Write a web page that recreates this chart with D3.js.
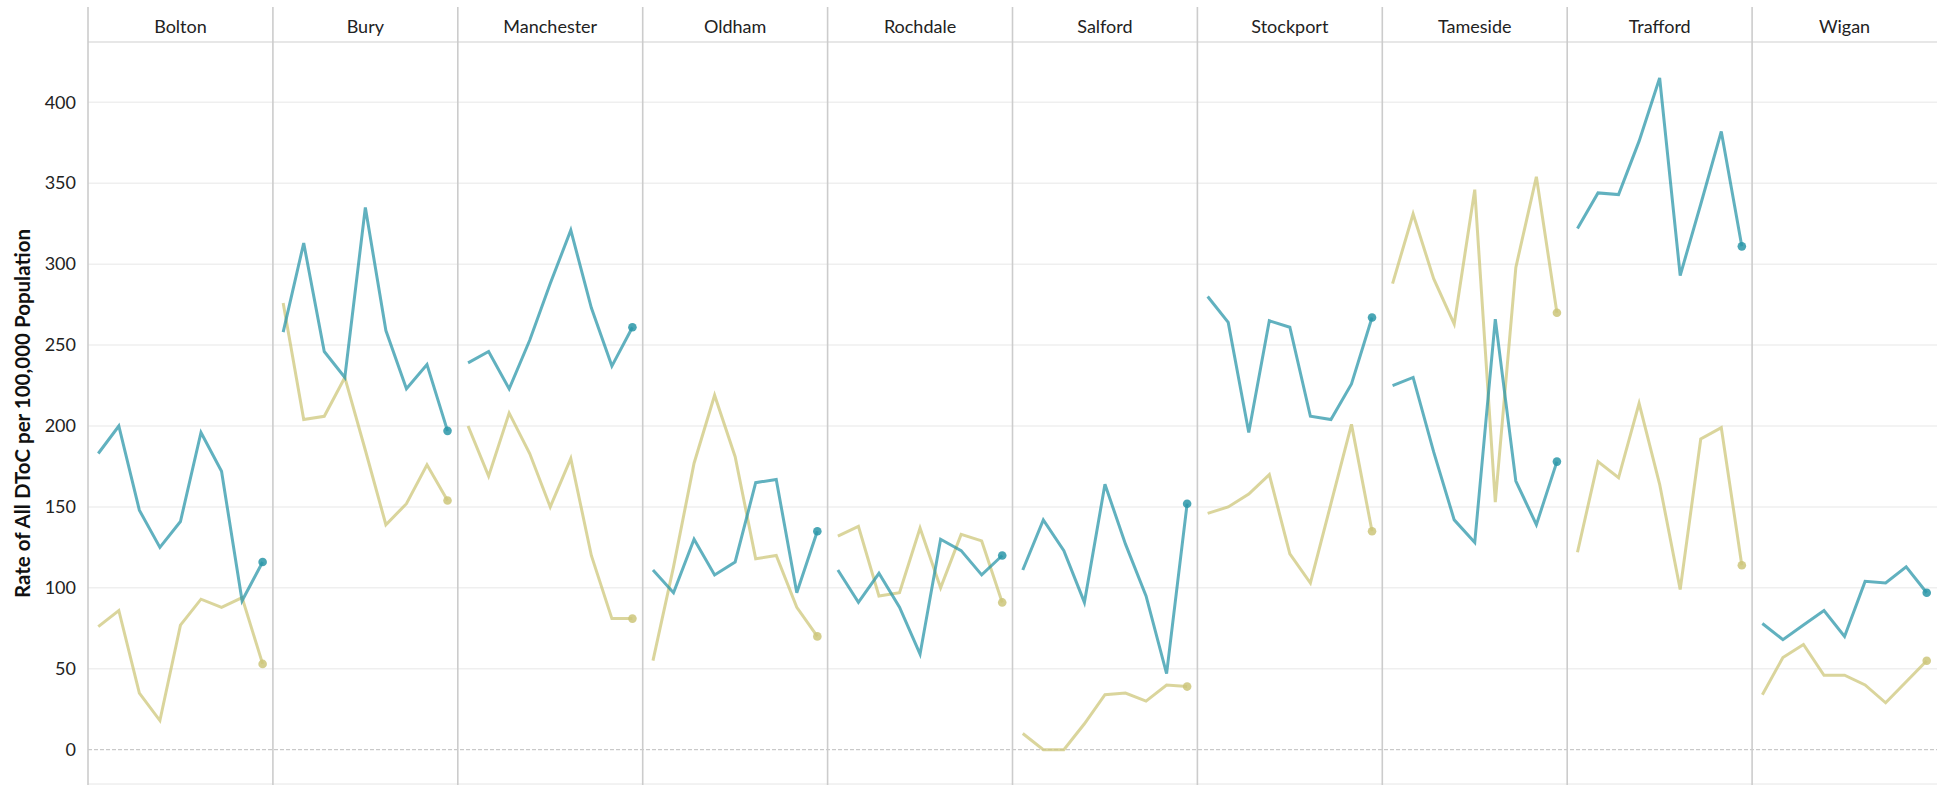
<!DOCTYPE html>
<html>
<head>
<meta charset="utf-8">
<script src="https://cdn.jsdelivr.net/npm/d3@7"></script>
<style>
  html, body { margin: 0; padding: 0; background: #fff; }
  svg { display: block; }
  text { font-family: Lato, "Open Sans", sans-serif; }
</style>
</head>
<body>
<svg id="chart" width="1937" height="785"></svg>
<script>
const boroughs = ["Bolton","Bury","Manchester","Oldham","Rochdale","Salford","Stockport","Tameside","Trafford","Wigan"];
const periods = [1,2,3,4,5,6,7,8,9];
const yTicks = [0,50,100,150,200,250,300,350,400];
const yTitle = "Rate of All DToC per 100,000 Population";

// Teal series (one array per borough, 9 periods)
const tealSeries = [
  [183,200,148,125,141,196,172,92,116],
  [258,313,246,230,335,259,223,238,197],
  [239,246,223,253,288,321,273,237,261],
  [111,97,130,108,116,165,167,97,135],
  [111,91,109,88,59,130,123,108,120],
  [111,142,123,91,164,127,95,47,152],
  [280,264,196,265,261,206,204,226,267],
  [225,230,184,142,128,266,166,139,178],
  [322,344,343,376,415,293,337,382,311],
  [78,68,77,86,70,104,103,113,97]
];
// Khaki series
const khakiSeries = [
  [76,86,35,18,77,93,88,94,53],
  [276,204,206,230,185,139,152,176,154],
  [200,169,208,183,150,180,120,81,81],
  [55,113,177,219,181,118,120,88,70],
  [132,138,95,97,137,100,133,129,91],
  [10,0,0,16,34,35,30,40,39],
  [146,150,158,170,121,103,152,201,135],
  [288,331,291,263,346,153,298,354,270],
  [122,178,168,214,164,99,192,199,114],
  [34,57,65,46,46,40,29,42,55]
];

const W = 1937, H = 785;
const left = 88, right = 1937;
const headerTop = 7, headerBottom = 42, plotBottom = 785;
const pw = (right - left) / boroughs.length;

const svg = d3.select("#chart");

const y = d3.scaleLinear().domain([0, 400]).range([749.7, 102.3]);
const xPanel = d3.scaleBand().domain(boroughs).range([left, right]).padding(0);
const x = d3.scalePoint().domain(periods).range([0, pw]).padding(0.5);

const tealColor = "#2a96a8", khakiColor = "#cdc67a";

// gridlines
svg.append("g").selectAll("line")
  .data(yTicks.filter(d => d !== 0))
  .join("line")
  .attr("x1", left).attr("x2", right)
  .attr("y1", d => y(d)).attr("y2", d => y(d))
  .attr("stroke", "#efefef").attr("stroke-width", 1.5);

// zero line
svg.append("line")
  .attr("x1", left).attr("x2", right)
  .attr("y1", y(0)).attr("y2", y(0))
  .attr("stroke", "#bdbdbd").attr("stroke-width", 1)
  .attr("stroke-dasharray", "4,2");

// header separator and bottom line
svg.append("line").attr("x1", left).attr("x2", right)
  .attr("y1", headerBottom).attr("y2", headerBottom)
  .attr("stroke", "#d0d0d0").attr("stroke-width", 1.2);
svg.append("line").attr("x1", left).attr("x2", right)
  .attr("y1", plotBottom - 1).attr("y2", plotBottom - 1)
  .attr("stroke", "#e6e6e6").attr("stroke-width", 1);

// panel separators
svg.append("g").selectAll("line")
  .data(boroughs)
  .join("line")
  .attr("x1", d => xPanel(d)).attr("x2", d => xPanel(d))
  .attr("y1", headerTop).attr("y2", plotBottom)
  .attr("stroke", "#cccccc").attr("stroke-width", 1.6);

// header labels
svg.append("g").selectAll("text")
  .data(boroughs)
  .join("text")
  .attr("x", d => xPanel(d) + pw / 2)
  .attr("y", 26)
  .attr("text-anchor", "middle")
  .attr("dominant-baseline", "central")
  .attr("font-size", 18)
  .attr("fill", "#222")
  .text(d => d);

// y axis
const yAxis = d3.axisLeft(y).tickValues(yTicks).tickSize(0).tickPadding(0);
const gy = svg.append("g").attr("transform", `translate(76,0)`).call(yAxis);
gy.select(".domain").remove();
gy.selectAll("text").attr("font-size", 18).attr("fill", "#222")
  .attr("font-family", "Lato, 'Open Sans', sans-serif");

// y title
svg.append("text")
  .attr("transform", `translate(22,${(headerBottom + plotBottom) / 2}) rotate(-90)`)
  .attr("text-anchor", "middle")
  .attr("dominant-baseline", "central")
  .attr("font-size", 20.5)
  .attr("font-weight", "bold")
  .attr("fill", "#111")
  .text(yTitle);

// lines
const line = d3.line().x((d, i) => x(periods[i])).y(d => y(d));

const panels = svg.append("g").selectAll("g")
  .data(boroughs)
  .join("g")
  .attr("transform", d => `translate(${xPanel(d)},0)`);

function drawSeries(series, color) {
  panels.append("path")
    .attr("d", (d, i) => line(series[i]))
    .attr("fill", "none")
    .attr("stroke", color)
    .attr("stroke-width", 3)
    .attr("stroke-opacity", 0.74)
    .attr("stroke-linejoin", "miter");
  panels.append("circle")
    .attr("cx", x(periods[periods.length - 1]))
    .attr("cy", (d, i) => y(series[i][series[i].length - 1]))
    .attr("r", 4.3)
    .attr("fill", color)
    .attr("fill-opacity", 0.85);
}
drawSeries(khakiSeries, khakiColor);
drawSeries(tealSeries, tealColor);
</script>
</body>
</html>
